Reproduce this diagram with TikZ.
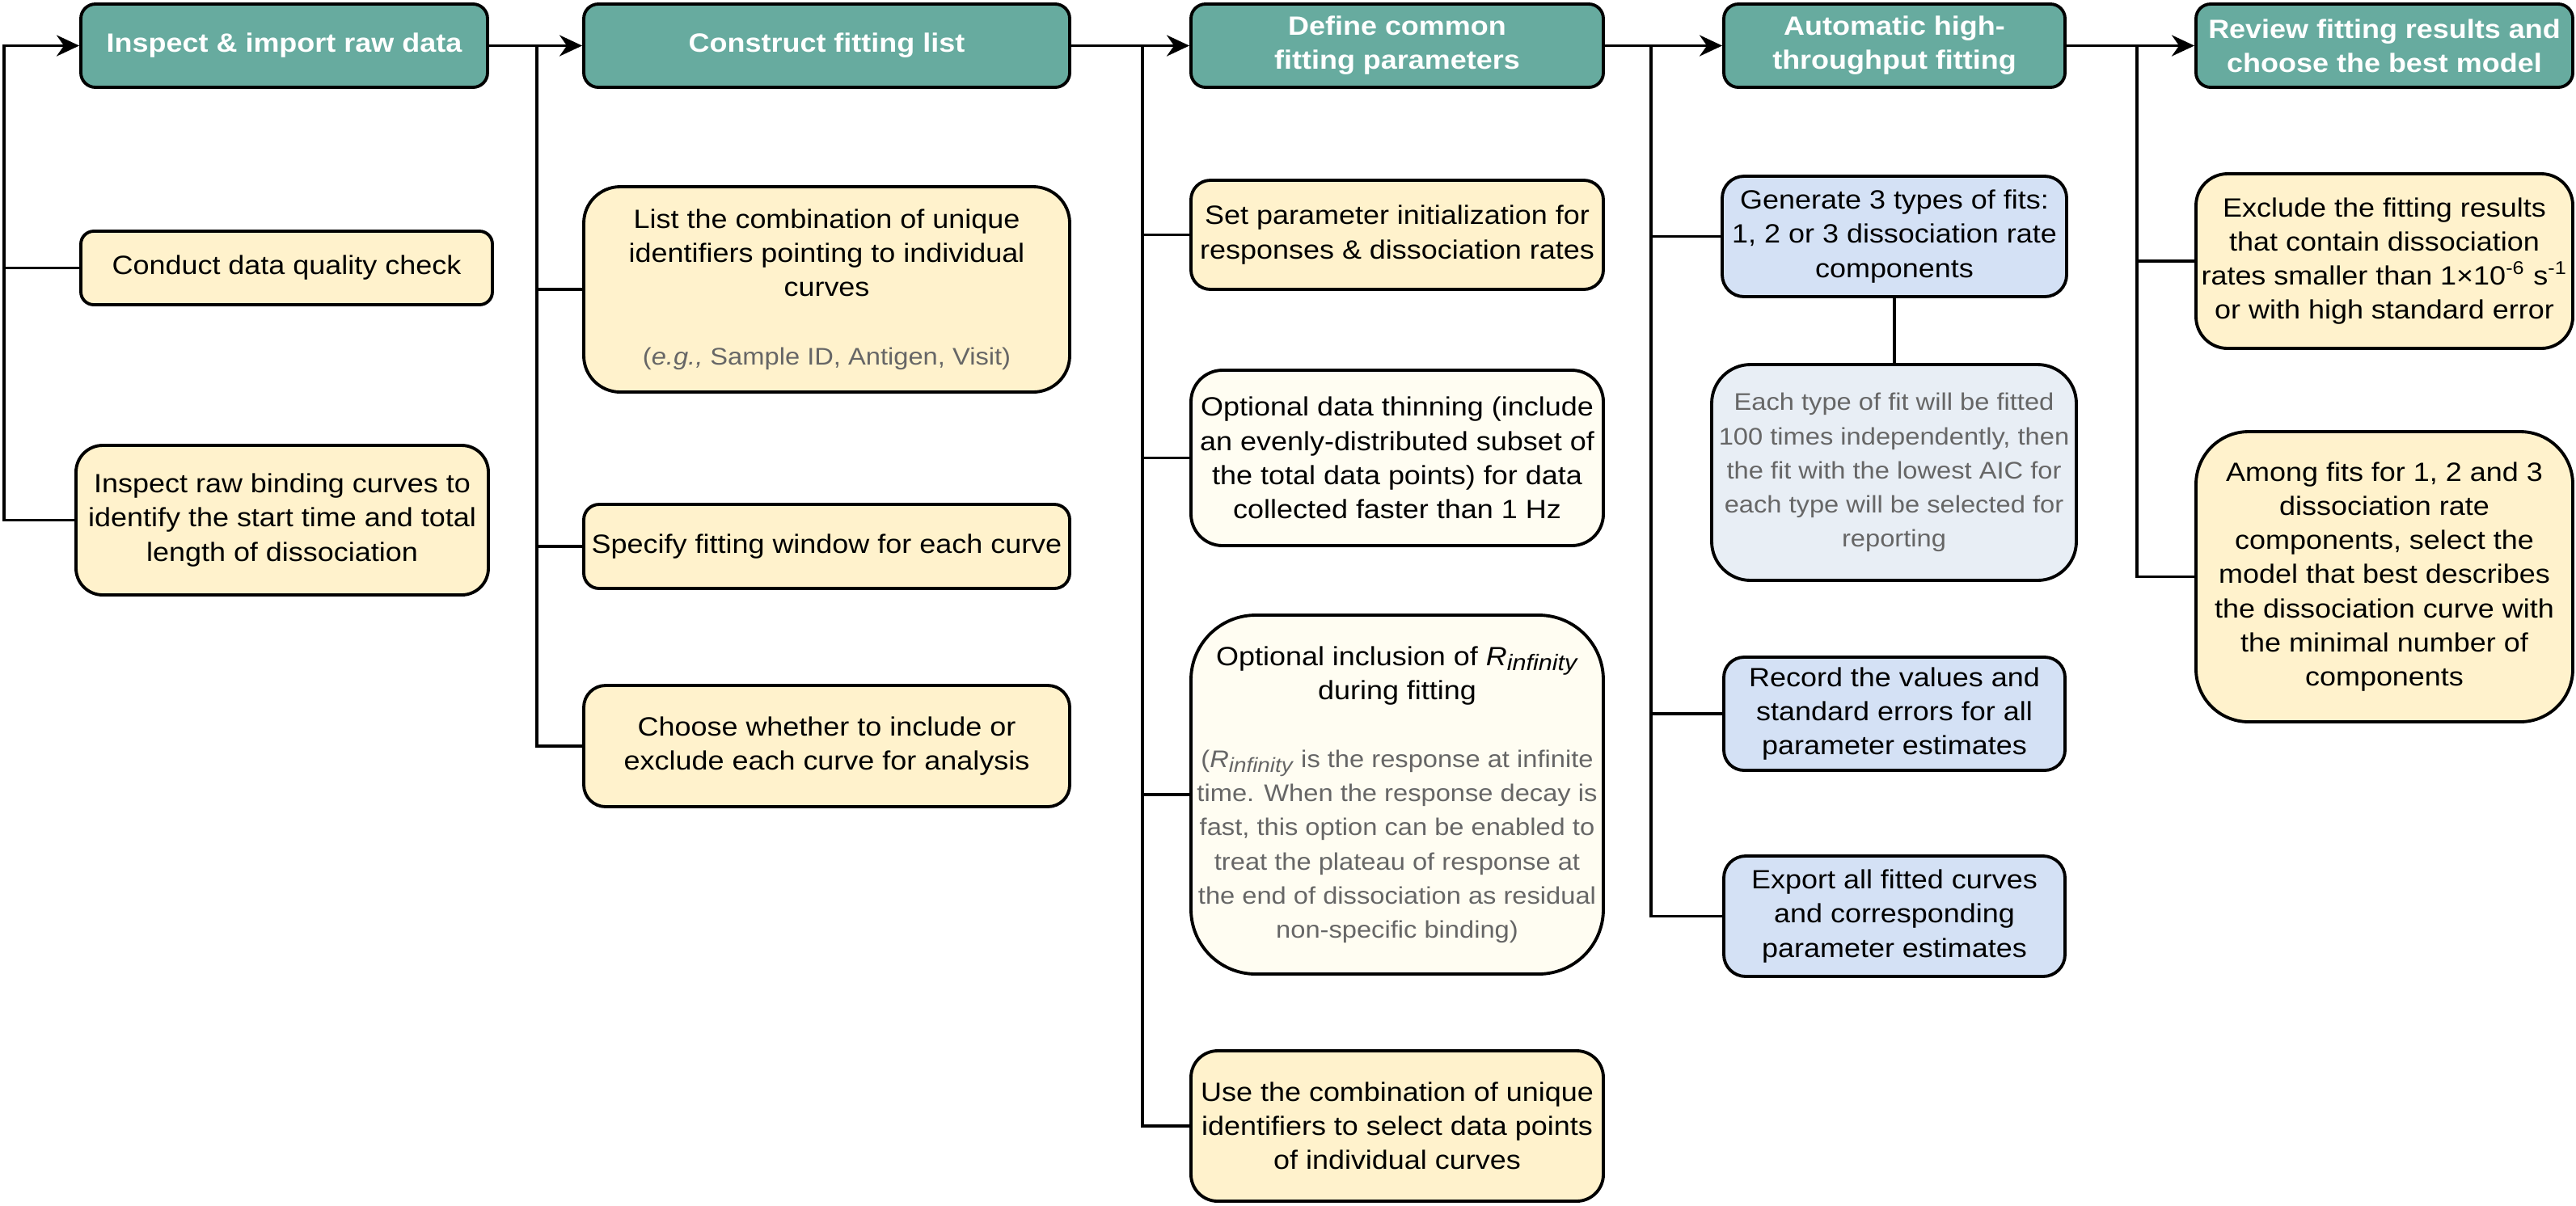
\documentclass[tikz,border=0pt]{standalone}
\usepackage{fontspec}
\setmainfont{Liberation Sans}[FakeStretch=1.1]
\usetikzlibrary{arrows.meta}

\definecolor{headgreen}{HTML}{67AB9F}
\definecolor{taskyellow}{HTML}{FFF2CC}
\definecolor{paleyellow}{HTML}{FFFDF2}
\definecolor{taskblue}{HTML}{D4E1F5}
\definecolor{paleblue}{HTML}{E8EEF5}
\definecolor{notegrey}{HTML}{666666}

\newcommand{\notetext}[1]{{\fontsize{8.45}{12}\selectfont\color{notegrey}#1}}
\newcommand{\rinf}[1][7.9]{\textit{R}\raisebox{-0.4ex}{\fontsize{#1}{#1}\selectfont\textit{infinity}}}

\tikzset{
	stage/.style={draw, line width=1.1pt, rounded corners=0.18cm, fill=headgreen, text=white,
		font=\bfseries\fontsize{9.3}{12}\selectfont, align=center, inner sep=0pt,
		minimum width=#1, minimum height=1.03cm},
	task/.style={draw, line width=1.1pt, fill=taskyellow, font=\fontsize{9.3}{12}\selectfont,
		align=center, inner sep=0pt, minimum width=#1},
	wire/.style={line width=1.1pt},
	flow/.style={wire, -{Stealth[length=2.8mm, width=2.6mm, inset=0.9mm]}}
}

\begin{document}
\begin{tikzpicture}
	\useasboundingbox (0,0) rectangle (31.86,-14.91);

	\node[stage=5.03cm] (inspect) at (3.515,-0.565) {Inspect \& import raw data};
	\node[task=5.09cm, minimum height=0.91cm, rounded corners=0.16cm] (check) at (3.545,-3.315) {Conduct data quality check};
	\node[task=5.10cm, minimum height=1.85cm, rounded corners=0.33cm] (rawcurves) at (3.49,-6.435) {Inspect raw binding curves to\\identify the start time and total\\length of dissociation};

	\node[stage=6.01cm] (construct) at (10.225,-0.565) {Construct fitting list};
	\node[task=6.01cm, minimum height=2.54cm, rounded corners=0.45cm] (idlist) at (10.225,-3.58) {List the combination of unique\\identifiers pointing to individual\\curves\\[12pt]\notetext{(\textit{e.g.,} Sample ID, Antigen, Visit)}};
	\node[task=6.01cm, minimum height=1.04cm, rounded corners=0.19cm] (window) at (10.225,-6.76) {Specify fitting window for each curve};
	\node[task=6.01cm, minimum height=1.50cm, rounded corners=0.27cm] (choose) at (10.225,-9.23) {Choose whether to include or\\exclude each curve for analysis};

	\node[stage=5.10cm] (define) at (17.28,-0.565) {Define common\\fitting parameters};
	\node[task=5.10cm, minimum height=1.35cm, rounded corners=0.24cm] (init) at (17.28,-2.905) {Set parameter initialization for\\responses \& dissociation rates};
	\node[task=5.10cm, minimum height=2.17cm, rounded corners=0.39cm, fill=paleyellow] (thin) at (17.28,-5.665) {Optional data thinning (include\\an evenly-distributed subset of\\the total data points) for data\\collected faster than 1 Hz};
	\node[task=5.10cm, minimum height=4.44cm, rounded corners=0.8cm, fill=paleyellow] (rinf) at (17.28,-9.83) {Optional inclusion of \rinf\\during fitting\\[12pt]%
		\notetext{(\rinf[7.2] is the response at infinite}\\\notetext{time. When the response decay is}\\%
		\notetext{fast, this option can be enabled to}\\\notetext{treat the plateau of response at}\\%
		\notetext{the end of dissociation as residual}\\\notetext{non-specific binding)}};
	\node[task=5.10cm, minimum height=1.86cm, rounded corners=0.33cm] (select) at (17.28,-13.93) {Use the combination of unique\\identifiers to select data points\\of individual curves};

	\node[stage=4.22cm] (autofit) at (23.43,-0.565) {Automatic high-\\throughput fitting};
	\node[task=4.26cm, minimum height=1.49cm, rounded corners=0.27cm, fill=taskblue] (fittypes) at (23.43,-2.925) {Generate 3 types of fits:\\1, 2 or 3 dissociation rate\\components};
	\node[task=4.51cm, minimum height=2.67cm, rounded corners=0.48cm, fill=paleblue, text=notegrey, font=\fontsize{8.45}{12}\selectfont] (repeats) at (23.425,-5.845) {Each type of fit will be fitted\\100 times independently, then\\the fit with the lowest AIC for\\each type will be selected for\\reporting};
	\node[task=4.22cm, minimum height=1.40cm, rounded corners=0.25cm, fill=taskblue] (record) at (23.43,-8.83) {Record the values and\\standard errors for all\\parameter estimates};
	\node[task=4.22cm, minimum height=1.49cm, rounded corners=0.27cm, fill=taskblue] (export) at (23.43,-11.335) {Export all fitted curves\\and corresponding\\parameter estimates};

	\node[stage=4.66cm] (review) at (29.49,-0.565) {Review fitting results and\\choose the best model};
	\node[task=4.66cm, minimum height=2.16cm, rounded corners=0.39cm] (exclude) at (29.49,-3.23) {Exclude the fitting results\\that contain dissociation\\rates smaller than 1×10\textsuperscript{-6} s\textsuperscript{-1}\\or with high standard error};
	\node[task=4.66cm, minimum height=3.59cm, rounded corners=0.65cm] (bestmodel) at (29.49,-7.135) {Among fits for 1, 2 and 3\\dissociation rate\\components, select the\\model that best describes\\the dissociation curve with\\the minimal number of\\components};

	\coordinate (s1) at (0.05,-0.565);
	\coordinate (s2) at (6.64,-0.565);
	\coordinate (s3) at (14.13,-0.565);
	\coordinate (s4) at (20.42,-0.565);
	\coordinate (s5) at (26.43,-0.565);

	\draw[flow] (rawcurves.west) -| (s1) -- (inspect.west);
	\draw[wire] (check.west) -- (check.west -| s1);
	\draw[flow] (inspect) -- (construct);
	\draw[flow] (construct) -- (define);
	\draw[flow] (define) -- (autofit);
	\draw[flow] (autofit) -- (review);
	\foreach \s/\b in {s2/idlist, s2/window, s2/choose, s3/init, s3/thin, s3/rinf, s3/select,
		s4/fittypes, s4/record, s4/export, s5/exclude, s5/bestmodel}{
		\draw[wire] (\s) |- (\b.west);
	}
	\draw[wire] (fittypes.south) -- (fittypes.south |- repeats.north);
\end{tikzpicture}
\end{document}
